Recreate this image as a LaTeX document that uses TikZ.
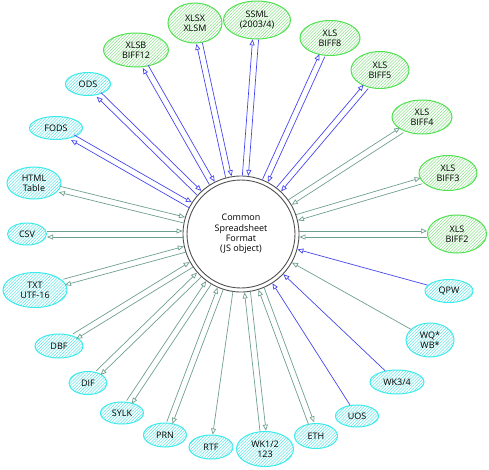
\documentclass[tikz,border=0pt]{standalone}
\usepackage{fontspec}
\setmainfont{Open Sans}
\usetikzlibrary{shapes.geometric,arrows.meta,patterns.meta,calc}
\definecolor{rblue}{RGB}{70,70,240}
\definecolor{rgreen}{RGB}{110,160,140}
\definecolor{gborder}{RGB}{80,225,80}
\definecolor{ghatch}{RGB}{140,225,140}
\definecolor{cborder}{RGB}{60,235,235}
\definecolor{chatch}{RGB}{100,228,228}
\definecolor{ring}{RGB}{80,80,80}
\newcommand\fmtedge[4]{%
  \path let \p1=($(#2)-(#1)$), \n1={atan2(\y1,\x1)} in \pgfextra{\xdef\fmtang{\n1}};%
  \begin{scope}[transform canvas={shift={({\fmtang+90}:#4)}}]
    \draw[#3] (#1) -- (#2);
  \end{scope}}
\newcommand\fmtboth[2]{\fmtedge{c}{#1}{#2}{3pt}\fmtedge{#1}{c}{#2}{3pt}}
\tikzset{
  lbl/.style={font=\fontsize{9}{9.8}\selectfont, align=center, inner sep=0pt},
  fmtG/.style={ellipse, lbl, draw=gborder, line width=1pt,
    pattern={Lines[angle=45,distance=2.2pt,line width=0.55pt]}, pattern color=ghatch},
  fmtC/.style={ellipse, lbl, draw=cborder, line width=1pt,
    pattern={Lines[angle=45,distance=2.2pt,line width=0.55pt]}, pattern color=chatch},
  sz/.style 2 args={minimum width=#1pt, minimum height=#2pt},
  arrB/.style={draw=rblue, line width=0.7pt, -{Triangle[open,length=6pt,width=5pt]}},
  arrG/.style={draw=rgreen, line width=0.7pt, -{Triangle[open,length=6pt,width=5pt]}},
}
\begin{document}
\begin{tikzpicture}[x=1pt,y=-1pt]
\useasboundingbox (0,0) rectangle (489,469);
% center
\node[circle, draw=ring, line width=0.9pt, minimum size=116pt, inner sep=0pt, lbl, font=\fontsize{9}{10.3}\selectfont] (c) at (241,234) {Common\\Spreadsheet\\Format\\(JS object)};
\draw[ring, line width=0.9pt] (c.center) circle[radius=54];
% green (XLS) nodes
\node[fmtG, sz={65}{34}] (xlsb) at (136,50) {XLSB\\BIFF12};
\node[fmtG, sz={54}{40}] (xlsx) at (195,23) {XLSX\\XLSM};
\node[fmtG, sz={67}{38}] (ssml) at (257,20) {SSML\\(2003/4)};
\node[fmtG, sz={60}{35}] (b8) at (330,38) {XLS\\BIFF8};
\node[fmtG, sz={58}{37}] (b5) at (380,70) {XLS\\BIFF5};
\node[fmtG, sz={60}{34}] (b4) at (422,117) {XLS\\BIFF4};
\node[fmtG, sz={58}{35}] (b3) at (448,173) {XLS\\BIFF3};
\node[fmtG, sz={59}{38}] (b2) at (457,234) {XLS\\BIFF2};
% cyan nodes
\node[fmtC, sz={48}{23}] (qpw) at (449,291) {QPW};
\node[fmtC, sz={48}{34}] (wq) at (430,340) {WQ*\\WB*};
\node[fmtC, sz={54}{24}] (wk3) at (397,382) {WK3/4};
\node[fmtC, sz={43}{22}] (uos) at (357,416) {UOS};
\node[fmtC, sz={43}{25}] (eth) at (316,436) {ETH};
\node[fmtC, sz={57}{35}] (wk1) at (265,449) {WK1/2\\123};
\node[fmtC, sz={44}{24}] (rtf) at (211,447) {RTF};
\node[fmtC, sz={43}{24}] (prn) at (165,435) {PRN};
\node[fmtC, sz={43}{22}] (sylk) at (122,413) {SYLK};
\node[fmtC, sz={38}{23}] (dif) at (88,383) {DIF};
\node[fmtC, sz={48}{24}] (dbf) at (59,346) {DBF};
\node[fmtC, sz={64}{35}] (txt) at (35,290) {TXT\\UTF-16};
\node[fmtC, sz={39}{22}] (csv) at (27,234) {CSV};
\node[fmtC, sz={54}{32}] (html) at (34,183) {HTML\\Table};
\node[fmtC, sz={53}{23}] (fods) at (56,128) {FODS};
\node[fmtC, sz={45}{23}] (ods) at (88,84) {ODS};
% edges
\fmtboth{xlsb}{arrB}
\fmtboth{xlsx}{arrB}
\fmtboth{ssml}{arrB}
\fmtboth{b8}{arrB}
\fmtboth{b5}{arrB}
\fmtboth{b4}{arrG}
\fmtboth{b3}{arrG}
\fmtboth{b2}{arrG}
\fmtedge{qpw}{c}{arrB}{0pt}
\fmtedge{wq}{c}{arrG}{0pt}
\fmtedge{wk3}{c}{arrB}{0pt}
\fmtedge{uos}{c}{arrB}{0pt}
\fmtboth{eth}{arrG}
\fmtboth{wk1}{arrG}
\fmtedge{c}{rtf}{arrG}{0pt}
\fmtboth{prn}{arrG}
\fmtboth{sylk}{arrG}
\fmtboth{dif}{arrG}
\fmtboth{dbf}{arrG}
\fmtboth{txt}{arrG}
\fmtboth{csv}{arrG}
\fmtboth{html}{arrG}
\fmtboth{fods}{arrB}
\fmtboth{ods}{arrB}
\end{tikzpicture}
\end{document}
